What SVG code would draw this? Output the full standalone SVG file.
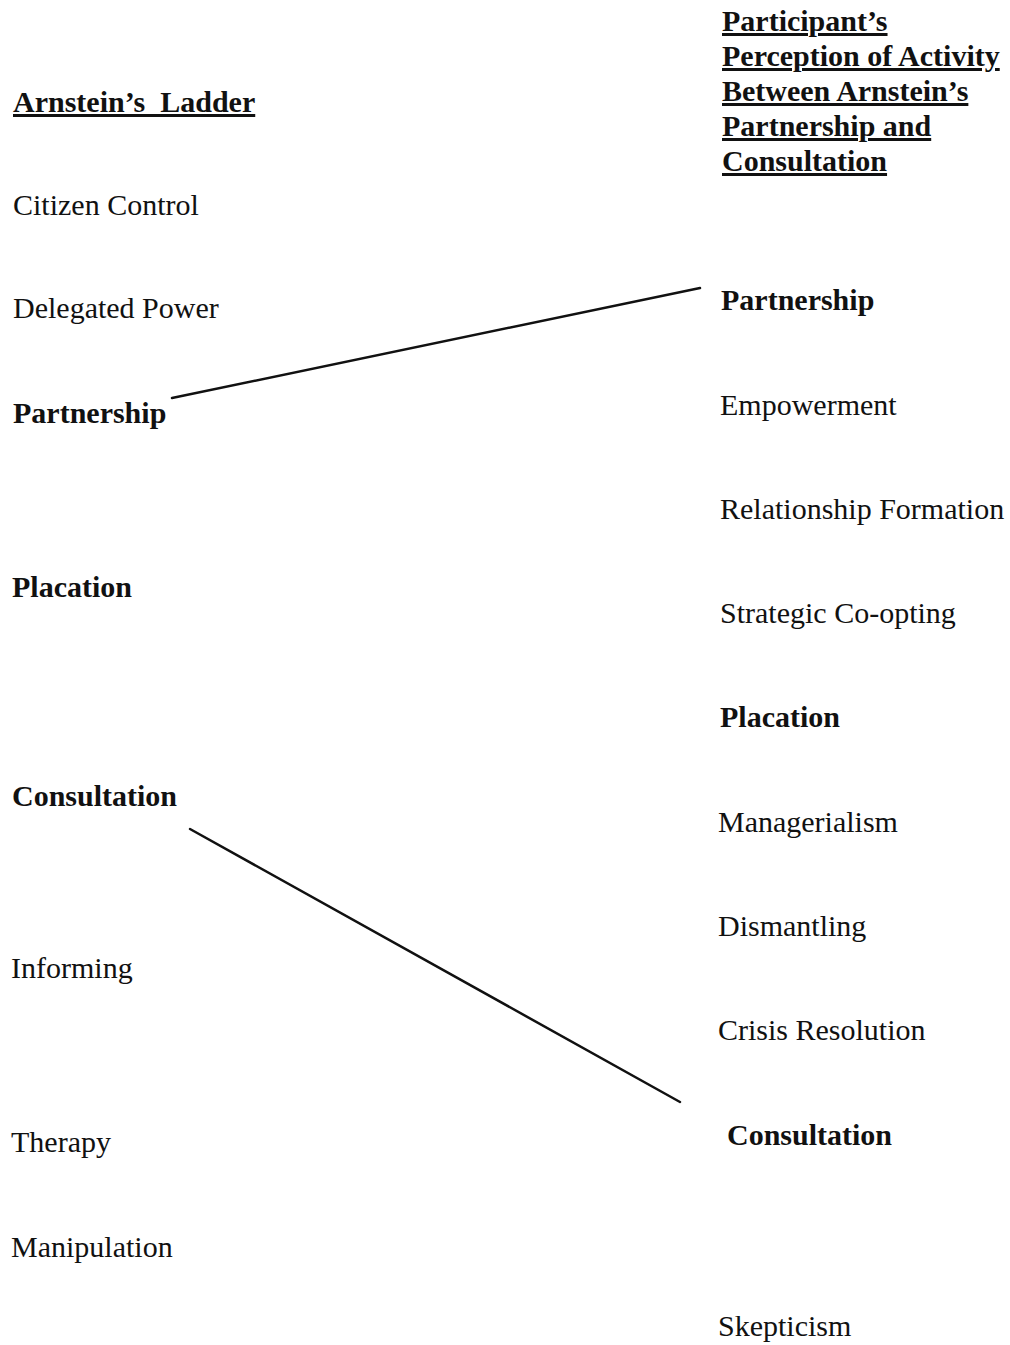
<svg xmlns="http://www.w3.org/2000/svg" width="1010" height="1345" viewBox="0 0 1010 1345">
<style>
text{font-family:"Liberation Serif","Times New Roman",serif;font-size:30px;fill:#111}
.b{font-weight:bold}
.u{text-decoration:underline}
.conn line{stroke:#111;stroke-width:2.5;stroke-linecap:round}
</style>
<rect width="1010" height="1345" fill="#fff"/>
<g id="left-header"><text class="b u" x="13" y="112" xml:space="preserve">Arnstein’s  Ladder</text></g>
<g id="citizen-control"><text x="13" y="215">Citizen Control</text></g>
<g id="delegated-power"><text x="13" y="318">Delegated Power</text></g>
<g id="left-partnership"><text class="b" x="13" y="423">Partnership</text></g>
<g id="left-placation"><text class="b" x="12" y="597">Placation</text></g>
<g id="left-consultation"><text class="b" x="12" y="806">Consultation</text></g>
<g id="informing"><text x="11" y="978">Informing</text></g>
<g id="therapy"><text x="11" y="1152">Therapy</text></g>
<g id="manipulation"><text x="11" y="1257">Manipulation</text></g>
<g id="right-header">
<text class="b u" x="722" y="31">Participant’s</text>
<text class="b u" x="722" y="66">Perception of Activity</text>
<text class="b u" x="722" y="101">Between Arnstein’s</text>
<text class="b u" x="722" y="136">Partnership and</text>
<text class="b u" x="722" y="171">Consultation</text>
</g>
<g id="right-partnership"><text class="b" x="721" y="310">Partnership</text></g>
<g id="empowerment"><text x="720" y="415">Empowerment</text></g>
<g id="relationship-formation"><text x="720" y="519">Relationship Formation</text></g>
<g id="strategic-co-opting"><text x="720" y="623">Strategic Co-opting</text></g>
<g id="right-placation"><text class="b" x="720" y="727">Placation</text></g>
<g id="managerialism"><text x="718" y="832">Managerialism</text></g>
<g id="dismantling"><text x="718" y="936">Dismantling</text></g>
<g id="crisis-resolution"><text x="718" y="1040">Crisis Resolution</text></g>
<g id="right-consultation"><text class="b" x="727" y="1145">Consultation</text></g>
<g id="skepticism"><text x="718" y="1336">Skepticism</text></g>
<g class="conn" id="connectors">
<line x1="172" y1="398" x2="700" y2="288"/>
<line x1="190" y1="829" x2="680" y2="1102"/>
</g>
</svg>
